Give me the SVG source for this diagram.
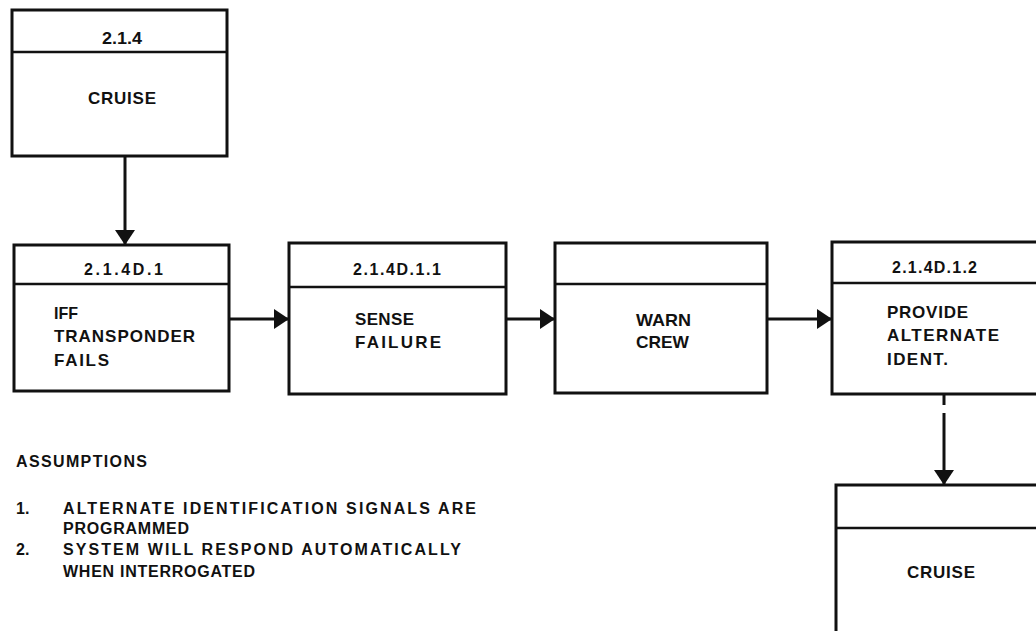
<svg xmlns="http://www.w3.org/2000/svg" width="1036" height="631" viewBox="0 0 1036 631">
<style>
.box{fill:#fff;stroke:#111;stroke-width:3}
.div{stroke:#111;stroke-width:2.5}
.t{font-family:"Liberation Sans",Arial,sans-serif;font-weight:bold;fill:#111}
.ttl{font-size:16px}
.body{font-size:17px}
.as{font-size:16px}
.con{stroke:#111;stroke-width:3;fill:none}
</style>
<defs>
<marker id="ah" markerUnits="userSpaceOnUse" markerWidth="15" markerHeight="20" refX="15" refY="10" orient="auto">
<path d="M0,0 L15,10 L0,20 Z" fill="#111"/>
</marker>
</defs>
<rect width="1036" height="631" fill="#fff"/>
<g id="connectors">
<line class="con" x1="125" y1="157" x2="125" y2="245" marker-end="url(#ah)"/>
<line class="con" x1="229" y1="319" x2="289" y2="319" marker-end="url(#ah)"/>
<line class="con" x1="506" y1="319" x2="555" y2="319" marker-end="url(#ah)"/>
<line class="con" x1="767" y1="319" x2="832" y2="319" marker-end="url(#ah)"/>
<line class="con" x1="944" y1="395" x2="944" y2="405"/>
<line class="con" x1="944" y1="413" x2="944" y2="485" marker-end="url(#ah)"/>
</g>
<g id="n-cruise-top">
<rect class="box" x="12" y="10" width="215" height="146"/>
<line class="div" x1="12" y1="52" x2="227" y2="52"/>
<text class="t ttl" x="102" y="44" textLength="40" lengthAdjust="spacingAndGlyphs">2.1.4</text>
<text class="t body" x="88" y="104" textLength="68" lengthAdjust="spacing">CRUISE</text>
</g>
<g id="n-iff">
<rect class="box" x="14" y="245" width="215" height="146"/>
<line class="div" x1="14" y1="284" x2="229" y2="284"/>
<text class="t ttl" x="84" y="275" textLength="79" lengthAdjust="spacing">2.1.4D.1</text>
<text class="t body" x="54" y="319" textLength="24" lengthAdjust="spacingAndGlyphs">IFF</text>
<text class="t body" x="54" y="342" textLength="141" lengthAdjust="spacing">TRANSPONDER</text>
<text class="t body" x="54" y="366" textLength="55" lengthAdjust="spacing">FAILS</text>
</g>
<g id="n-sense">
<rect class="box" x="289" y="243" width="217" height="151"/>
<line class="div" x1="289" y1="287" x2="506" y2="287"/>
<text class="t ttl" x="353" y="275" textLength="88" lengthAdjust="spacing">2.1.4D.1.1</text>
<text class="t body" x="355" y="325" textLength="59" lengthAdjust="spacing">SENSE</text>
<text class="t body" x="355" y="348" textLength="86" lengthAdjust="spacing">FAILURE</text>
</g>
<g id="n-warn">
<rect class="box" x="555" y="243" width="212" height="150"/>
<line class="div" x1="555" y1="284" x2="767" y2="284"/>
<text class="t body" x="636" y="326" textLength="55" lengthAdjust="spacingAndGlyphs">WARN</text>
<text class="t body" x="636" y="348" textLength="53" lengthAdjust="spacingAndGlyphs">CREW</text>
</g>
<g id="n-provide">
<rect class="box" x="832" y="242" width="230" height="152"/>
<line class="div" x1="832" y1="283" x2="1062" y2="283"/>
<text class="t ttl" x="892" y="273" textLength="85" lengthAdjust="spacing">2.1.4D.1.2</text>
<text class="t body" x="887" y="318" textLength="81" lengthAdjust="spacing">PROVIDE</text>
<text class="t body" x="887" y="341" textLength="112" lengthAdjust="spacing">ALTERNATE</text>
<text class="t body" x="887" y="365" textLength="61" lengthAdjust="spacing">IDENT.</text>
</g>
<g id="n-cruise-bottom">
<rect class="box" x="836" y="485" width="226" height="160"/>
<line class="div" x1="836" y1="528" x2="1062" y2="528"/>
<text class="t body" x="907" y="578" textLength="68" lengthAdjust="spacing">CRUISE</text>
</g>
<g id="assumptions">
<text class="t as" x="16" y="467" textLength="131" lengthAdjust="spacing">ASSUMPTIONS</text>
<text class="t as" x="16" y="514">1.</text>
<text class="t as" x="63" y="514" textLength="413" lengthAdjust="spacing">ALTERNATE IDENTIFICATION SIGNALS ARE</text>
<text class="t as" x="63" y="534" textLength="126" lengthAdjust="spacing">PROGRAMMED</text>
<text class="t as" x="16" y="555">2.</text>
<text class="t as" x="63" y="555" textLength="398" lengthAdjust="spacing">SYSTEM WILL RESPOND AUTOMATICALLY</text>
<text class="t as" x="63" y="577" textLength="192" lengthAdjust="spacing">WHEN INTERROGATED</text>
</g>
</svg>
